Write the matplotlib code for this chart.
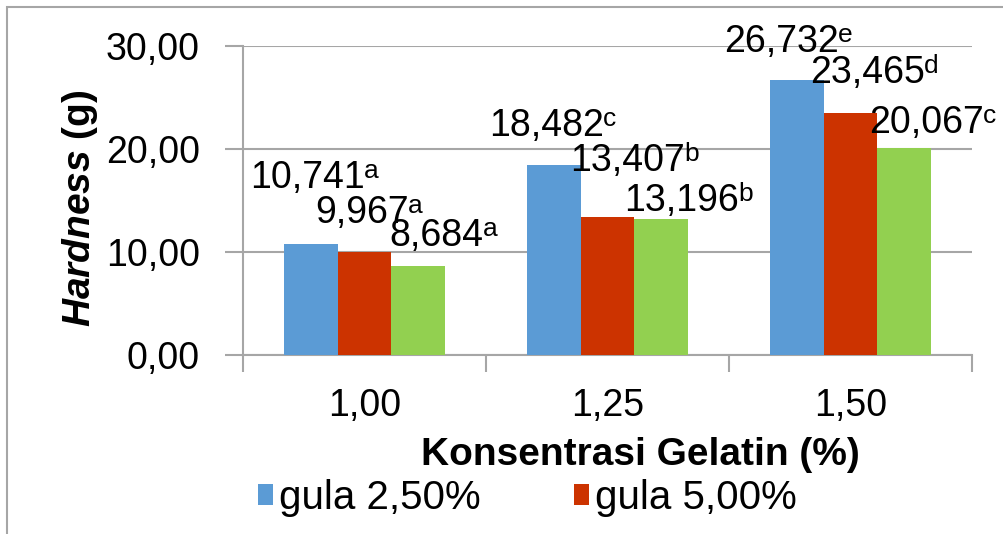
import matplotlib
matplotlib.use("Agg")
import matplotlib.pyplot as plt
import numpy as np
from matplotlib.patches import Rectangle

plt.rcParams['font.family'] = 'Liberation Sans'
plt.rcParams['mathtext.fontset'] = 'custom'
plt.rcParams['mathtext.rm'] = 'Liberation Sans'
plt.rcParams['mathtext.it'] = 'Liberation Sans:italic'
plt.rcParams['mathtext.bf'] = 'Liberation Sans:bold'
plt.rcParams['mathtext.bfit'] = 'Liberation Sans:italic:bold'

# data
kategori = ["1,00", "1,25", "1,50"]
seri = ["gula 2,50%", "gula 5,00%", "gula 7,50%"]
gula_250 = [10.741, 18.482, 26.732]
gula_500 = [9.967, 13.407, 23.465]
gula_750 = [8.684, 13.196, 20.067]
notasi_250 = ["a", "c", "e"]
notasi_500 = ["a", "b", "d"]
notasi_750 = ["a", "b", "c"]
yticks = [0, 10, 20, 30]

warna = ["#5B9BD5", "#CC3300", "#92D050"]

# geser label angka (layout, bukan data)
label_dx = [[-0.012, -0.029, -0.062], [-0.012, 0.082, 0.07], [0.074, 0.082, 0.09]]
label_dy = [[5.5, 2.8, 2.7], [2.85, 4.5, 2.95], [1.9, 0.8, 1.5]]

fig = plt.figure(figsize=(10.04, 5.34), dpi=100)
ax = fig.add_axes([243/1004, 1-355/534, (972-243)/1004, (355-46)/534])

x = np.arange(len(kategori))
lebar = 0.222
nilai = [gula_250, gula_500, gula_750]
notasi = [notasi_250, notasi_500, notasi_750]
bars = []
for i in range(3):
    pos = x + (i - 1) * lebar
    b = ax.bar(pos, nilai[i], lebar, color=warna[i], label=seri[i], zorder=3)
    bars.append(b)
    for j in range(len(kategori)):
        angka = f"{nilai[i][j]:.3f}".replace(".", ",")
        t = ax.text(pos[j] + label_dx[i][j], nilai[i][j] + label_dy[i][j], angka,
                    ha='center', va='baseline', fontsize=27, color='black', zorder=5,
                    clip_on=False)
        # huruf notasi sebagai superscript
        ax.annotate(notasi[i][j], xy=(1, 0), xycoords=t, xytext=(-0.5, 13),
                    textcoords='offset points', ha='left', va='baseline',
                    fontsize=19, color='black', zorder=5, annotation_clip=False)

ax.set_xlim(-0.5, 2.5)
ax.set_ylim(0, 30)
ax.set_yticks(yticks)
ax.set_yticklabels([f"{v:.2f}".replace(".", ",") for v in yticks], fontsize=27)
ax.yaxis.grid(True, color='#A6A6A6', linewidth=1.5, zorder=0)

ax.set_xticks([-0.5, 0.5, 1.5, 2.5])
ax.set_xticklabels([])
ax.set_xticks(x, minor=True)
ax.set_xticklabels(kategori, minor=True, fontsize=27)
ax.tick_params(axis='x', which='major', length=12, width=1.5, color='#A6A6A6', direction='out')
ax.tick_params(axis='x', which='minor', length=0, pad=24)
ax.tick_params(axis='y', length=13, width=1.5, color='#A6A6A6', direction='out', pad=18)

for s in ['top', 'right']:
    ax.spines[s].set_visible(False)
for s in ['left', 'bottom']:
    ax.spines[s].set_color('#A6A6A6')
    ax.spines[s].set_linewidth(1.5)

fig.text(640/1004, 1-455/534, "Konsentrasi Gelatin (%)", ha='center', va='center',
         fontsize=28, fontweight='bold')
fig.text(80/1004, 1-208/534, r"$\mathbfit{Hardness}$ (g)", ha='center', va='center',
         rotation=90, fontsize=28, fontweight='bold')

fig.legend(handles=bars[:2], labels=seri[:2], loc='center left', ncol=2,
           bbox_to_anchor=(258/1004, 1-498/534), frameon=False, fontsize=29,
           handlelength=0.38, handleheight=0.45, handletextpad=0.15,
           columnspacing=2.3, borderpad=0, borderaxespad=0)

# bingkai luar
fig.patches.append(Rectangle((7/1004, -0.2), 1.2, 1.2 - 7/534, transform=fig.transFigure,
                             fill=False, edgecolor='#A6A6A6', linewidth=1.5))

fig.savefig("out.png", dpi=100)
